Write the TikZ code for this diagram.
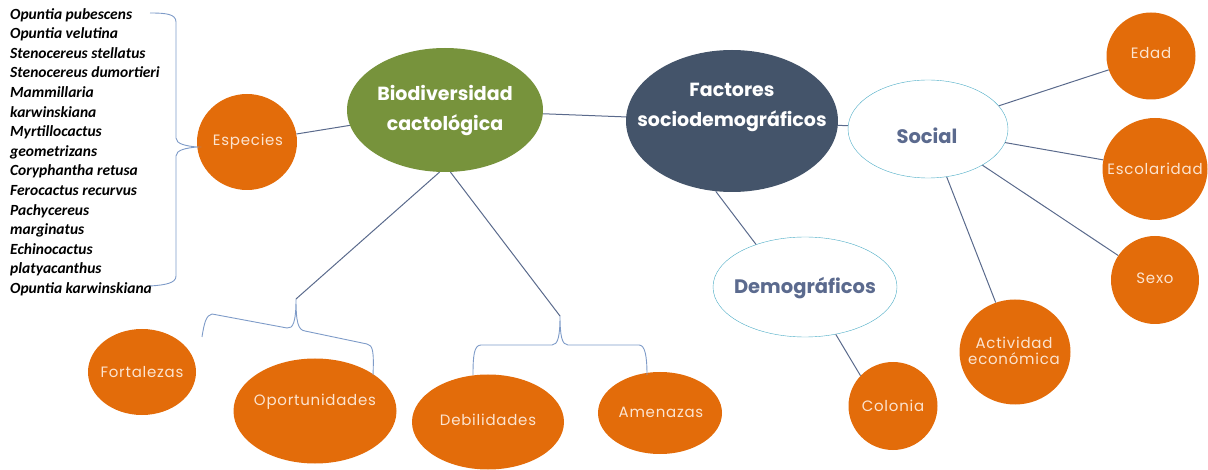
\documentclass[tikz,border=0pt]{standalone}
\usepackage{fontspec}
\setmainfont{Poppins}
\newfontfamily\listfont{Carlito}
\newfontfamily\hojafont[LetterSpace=5]{Poppins}
\usetikzlibrary{shapes.geometric}
\usetikzlibrary{positioning}

\definecolor{naranja}{HTML}{E36C0A}
\definecolor{verde}{HTML}{77933C}
\definecolor{pizarra}{HTML}{44546A}
\definecolor{turquesa}{HTML}{4BACC6}
\definecolor{enlace}{HTML}{5A6A8C}
\definecolor{llave}{HTML}{7E9BC8}
\definecolor{crema}{HTML}{FCE4D0}
\definecolor{tinta}{HTML}{5B6A8E}

\tikzset{
  burbuja/.style={ellipse, fill=naranja, inner sep=0pt},
  tema/.style={ellipse, inner sep=0pt},
  rama/.style={ellipse, draw=turquesa, fill=white, inner sep=0pt},
  txthoja/.style={inner sep=0pt, text=crema, align=center,
    font=\hojafont\fontsize{15}{16.5}\selectfont},
  txttema/.style={inner sep=0pt, text=white, align=center,
    font=\bfseries\fontsize{19}{30}\selectfont},
  txtrama/.style={inner sep=0pt, text=tinta,
    font=\bfseries\fontsize{19.5}{22}\selectfont},
  enlace/.style={draw=enlace, line width=1pt},
  llave/.style={draw=llave, line width=0.9pt}
}

\begin{document}
\begin{tikzpicture}[x=1pt,y=-1pt]
  \useasboundingbox (0,0) rectangle (1208,470);

  % nodos centrales
  \node[tema, fill=verde, minimum width=196, minimum height=124] (bio) at (445,110) {};
  \node[txttema] (bioT) at (445,111) {Biodiversidad\\cactológica};
  \node[tema, fill=pizarra, minimum width=212, minimum height=142] (fac) at (732,121) {};
  \node[txttema] (facT) at (732,107) {Factores\\sociodemográficos};
  \node[rama, minimum width=160, minimum height=98] (soc) at (928,129) {};
  \node[txtrama] (socT) at (927,136) {Social};
  \node[rama, minimum width=184, minimum height=100] (demo) at (805,287) {};
  \node[txtrama] (demoT) at (805,288) {Demográficos};

  % hojas
  \node[burbuja, minimum width=100, minimum height=96] (esp) at (247,142) {};
  \node[txthoja] (espT) at (248,142) {Especies};
  \node[burbuja, minimum width=89, minimum height=87] (edad) at (1151,56) {};
  \node[txthoja] (edadT) at (1151,53) {Edad};
  \node[burbuja, minimum width=105, minimum height=102] (esc) at (1155,169) {};
  \node[txthoja] (escT) at (1155,169) {Escolaridad};
  \node[burbuja, minimum width=88, minimum height=88] (sexo) at (1155,280) {};
  \node[txthoja] (sexoT) at (1155,278) {Sexo};
  \node[burbuja, minimum width=111, minimum height=105] (act) at (1015,352) {};
  \node[txthoja] (actT) at (1014,351) {Actividad\\económica};
  \node[burbuja, minimum width=89, minimum height=88] (col) at (893,406) {};
  \node[txthoja] (colT) at (893,406) {Colonia};
  \node[burbuja, minimum width=108, minimum height=86] (fort) at (142,372) {};
  \node[txthoja] (fortT) at (142,372) {Fortalezas};
  \node[burbuja, minimum width=163, minimum height=105] (opor) at (315,411) {};
  \node[txthoja] (oporT) at (315,402) {Oportunidades};
  \node[burbuja, minimum width=152, minimum height=95] (deb) at (488,422) {};
  \node[txthoja] (debT) at (488,420) {Debilidades};
  \node[burbuja, minimum width=124, minimum height=82] (ame) at (660,413) {};
  \node[txthoja] (ameT) at (661,412) {Amenazas};

  % lista de especies
  \node[anchor=north west, inner sep=0pt, align=left,
        font=\listfont\bfseries\itshape\fontsize{15.5}{19.6}\selectfont] (lista) at (10,8)
    {Opuntia pubescens\\ Opuntia velutina\\ Stenocereus stellatus\\
     Stenocereus dumortieri\\ Mammillaria\\ karwinskiana\\ Myrtillocactus\\
     geometrizans\\ Coryphantha retusa\\ Ferocactus recurvus\\ Pachycereus\\
     marginatus\\ Echinocactus\\ platyacanthus\\ Opuntia karwinskiana};

  % llaves
  \coordinate (picoA) at (296,299);
  \coordinate (picoB) at (560,316);
  \draw[llave] (150,13) .. controls (166,13) and (176,14) .. (176,22) -- (176,138)
    .. controls (176,144) and (186,146) .. (197,147)
    .. controls (186,148) and (176,150) .. (176,156) -- (176,276)
    .. controls (176,283) and (166,285) .. (150,286);
  \draw[llave] (202,337) .. controls (204,324) and (206,315) .. (212,314) -- (287,328)
    .. controls (293,329) and (296,322) .. (picoA)
    .. controls (296,322) and (298,330) .. (305,331) -- (367,344)
    .. controls (373,345) and (374,352) .. (373,375);
  \draw[llave] (473,375) .. controls (473,356) and (474,345) .. (481,345) -- (552,345)
    .. controls (558,345) and (560,336) .. (picoB)
    .. controls (560,336) and (562,345) .. (568,345) -- (639,345)
    .. controls (645,345) and (647,356) .. (647,375);

  % conectores
  \draw[enlace] (esp) -- (bio);
  \draw[enlace] (bio) -- (fac);
  \draw[enlace] (fac) -- (soc);
  \draw[enlace] (fac.-103) -- (demo.139);
  \draw[enlace] (demo.-57) -- (col.137);
  \draw[enlace] (soc) -- (edad);
  \draw[enlace] (soc) -- (esc);
  \draw[enlace] (soc) -- (sexo);
  \draw[enlace] (soc) -- (act);
  \draw[enlace] (bio.-95) -- (picoA);
  \draw[enlace] (bio.-85) -- (picoB);
\end{tikzpicture}
\end{document}
